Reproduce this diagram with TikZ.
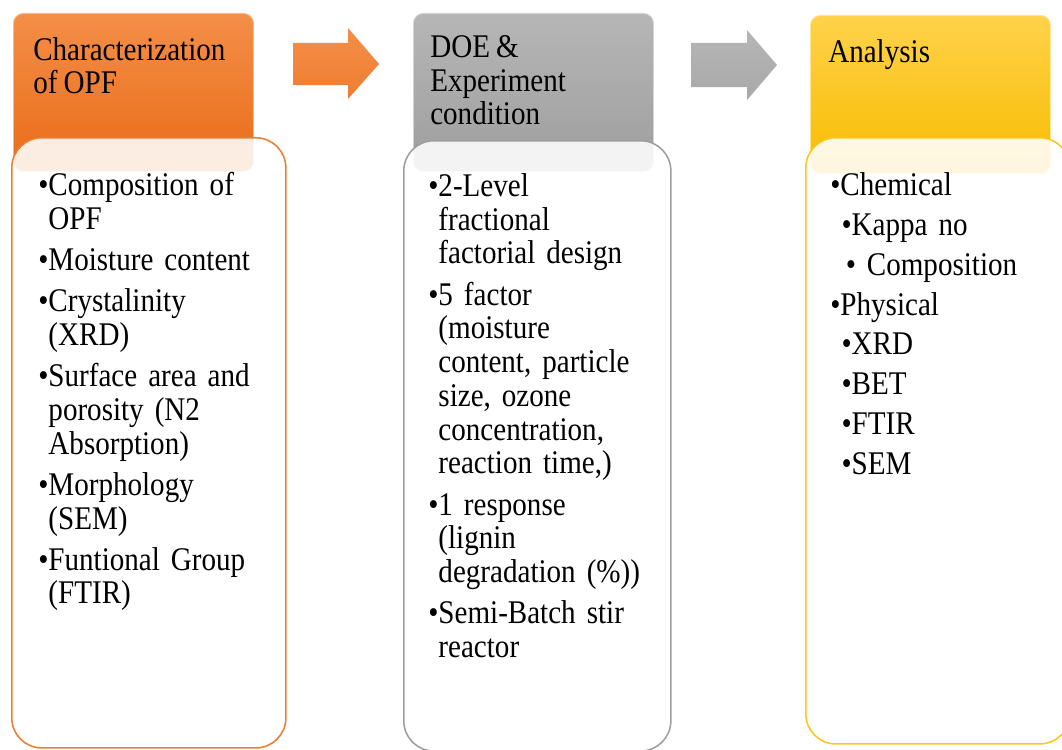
\documentclass[tikz,border=0pt]{standalone}
\usepackage{fontspec}
\setmainfont{Liberation Serif}[FakeStretch=0.88, WordSpace=0.85]
\usetikzlibrary{positioning, calc}

\definecolor{orangeT}{HTML}{F48E48}
\definecolor{orangeM}{HTML}{EF7D31}
\definecolor{orangeB}{HTML}{E96C18}
\definecolor{grayT}{HTML}{B6B6B6}
\definecolor{grayM}{HTML}{A8A8A8}
\definecolor{grayB}{HTML}{9E9E9E}
\definecolor{goldT}{HTML}{FFD24A}
\definecolor{goldM}{HTML}{FFC61A}
\definecolor{goldB}{HTML}{F7BC00}

\newcommand{\bitem}{\par\setbox0\hbox{\textbullet}\hangindent=\wd0\hangafter=1\noindent\textbullet}
\newcommand{\sbitem}[1][8pt]{\par\noindent\hspace*{#1}\textbullet}

\begin{document}
\begin{tikzpicture}[x=0.025cm, y=-0.025cm,
    hdr/.style={anchor=north west, rounded corners=0.25cm, minimum width=6cm,
        minimum height=3.95cm, inner sep=0, line width=0.6pt},
    body/.style={anchor=north west, rounded corners=0.75cm, draw=#1, line width=1.1pt,
        fill=white, fill opacity=0.88, text opacity=1},
    hdtxt/.style={anchor=north west, align=left, inner sep=0,
        font=\fontsize{23.5}{24}\selectfont},
    bultxt/.style={hdtxt, text width=5.8cm,
        execute at begin node={\setlength{\parskip}{#1}}},
    bultxt/.default=5.3pt
  ]
  \useasboundingbox (0,0) rectangle (1062,749);

  % headers
  \node[hdr, draw=orangeT!60!white, top color=orangeT, middle color=orangeM, bottom color=orangeB] (h1) at (13,13) {};
  \node[hdr, draw=grayT!60!white, top color=grayT, middle color=grayM, bottom color=grayB] (h2) at (413,13) {};
  \node[hdr, draw=goldT!60!white, top color=goldT, middle color=goldM, bottom color=goldB] (h3) at (810,15) {};

  % block arrows
  \shade[top color=orangeT, bottom color=orangeM]
    (293,43) -- (348,43) -- (348,28) -- (379,64) -- (348,99) -- (348,85) -- (293,85) -- cycle;
  \shade[top color=grayT, bottom color=grayM]
    (691,43) -- (747,43) -- (747,30) -- (777,65) -- (747,100) -- (747,87) -- (691,87) -- cycle;

  % bodies
  \node[body=orangeM, minimum width=6.85cm, minimum height=15.25cm] (b1) at (11,137) {};
  \node[body=grayB, minimum width=6.675cm, minimum height=15.25cm] (b2) at (403,140) {};
  \node[body=goldM, minimum width=6.6cm, minimum height=15.15cm] (b3) at (805,137) {};

  % header texts
  \node[hdtxt] (t1) at (33,37) {Characterization\\of OPF};
  \node[hdtxt] (t2) at (430,35) {DOE \&\\Experiment\\condition};
  \node[hdtxt] (t3) at (828,39) {Analysis};

  % body texts
  \node[bultxt] (l1) at (38,154) {\bitem Composition of\newline OPF
    \bitem Moisture content
    \bitem Crystalinity\newline (XRD)
    \bitem Surface area and\newline porosity (N2\newline Absorption)
    \bitem Morphology\newline (SEM)
    \bitem Funtional Group\newline (FTIR)\par};
  \node[bultxt] (l2) at (428,155) {\bitem 2-Level\newline fractional\newline factorial design
    \bitem 5 factor\newline (moisture\newline content, particle\newline size, ozone\newline concentration,\newline reaction time,)
    \bitem 1 response\newline (lignin\newline degradation (\%))
    \bitem Semi-Batch stir\newline reactor\par};
  \node[bultxt=4.4pt] (l3) at (830,155) {\bitem Chemical
    \sbitem[8pt]Kappa no
    \sbitem[11pt]\ Composition
    \bitem Physical
    \sbitem[8pt]XRD
    \sbitem[8pt]BET
    \sbitem[8pt]FTIR
    \sbitem[8pt]SEM\par};
\end{tikzpicture}
\end{document}
